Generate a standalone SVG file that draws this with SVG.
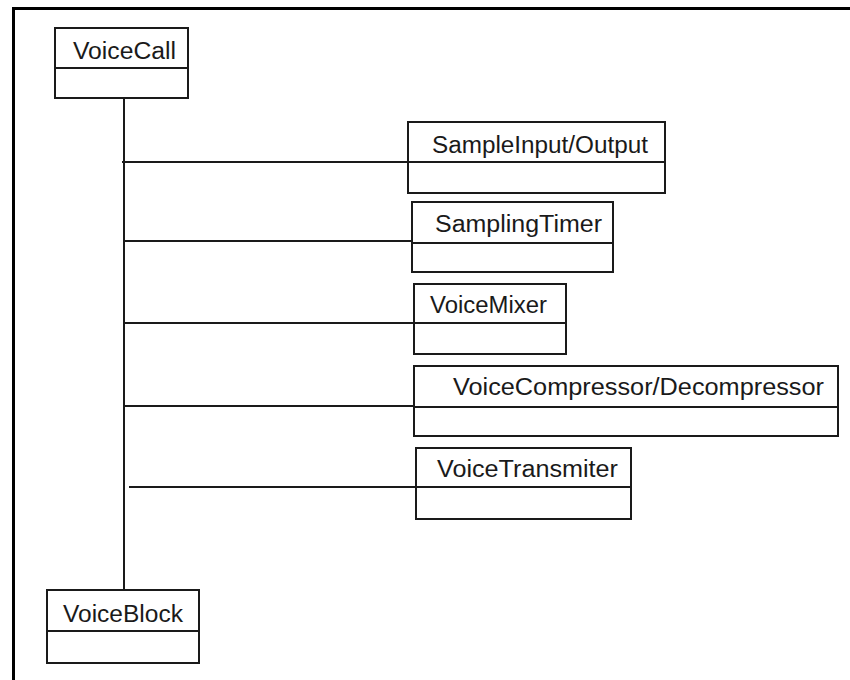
<svg xmlns="http://www.w3.org/2000/svg" width="850" height="680" viewBox="0 0 850 680">
  <style>
    .box { fill: #ffffff; stroke: #1a1a1a; stroke-width: 2; }
    .div { stroke: #1a1a1a; stroke-width: 2; }
    .lbl { font-family: "Liberation Sans", Arial, sans-serif; font-size: 23px; fill: #1a1a1a; }
    .wire { stroke: #1a1a1a; stroke-width: 2; fill: none; }
    .frame { stroke: #000000; stroke-width: 3; fill: none; }
  </style>
  <rect x="0" y="0" width="850" height="680" fill="#ffffff"/>
  <!-- frame: top and left edges only -->
  <path class="frame" d="M13.5,680 V8.5 H850"/>

  <!-- connectors -->
  <g id="connectors">
    <line class="wire" x1="124" y1="99" x2="124" y2="590"/>
    <line class="wire" x1="122" y1="162" x2="408" y2="162"/>
    <line class="wire" x1="124" y1="241" x2="412" y2="241"/>
    <line class="wire" x1="124" y1="323" x2="414" y2="323"/>
    <line class="wire" x1="124" y1="406" x2="414" y2="406"/>
    <line class="wire" x1="129" y1="487" x2="416" y2="487"/>
  </g>

  <g id="VoiceCall">
    <rect class="box" x="55" y="28" width="133" height="70"/>
    <line class="div" x1="55" y1="68" x2="188" y2="68"/>
    <text class="lbl" x="73" y="59" textLength="103" lengthAdjust="spacingAndGlyphs">VoiceCall</text>
  </g>

  <g id="SampleInputOutput">
    <rect class="box" x="408" y="122" width="257" height="71"/>
    <line class="div" x1="408" y1="162" x2="665" y2="162"/>
    <text class="lbl" x="432" y="153" textLength="216" lengthAdjust="spacingAndGlyphs">SampleInput/Output</text>
  </g>

  <g id="SamplingTimer">
    <rect class="box" x="412" y="202" width="201" height="70"/>
    <line class="div" x1="412" y1="243" x2="613" y2="243"/>
    <text class="lbl" x="435" y="232" textLength="167" lengthAdjust="spacingAndGlyphs">SamplingTimer</text>
  </g>

  <g id="VoiceMixer">
    <rect class="box" x="414" y="284" width="152" height="70"/>
    <line class="div" x1="414" y1="323" x2="566" y2="323"/>
    <text class="lbl" x="430" y="313" textLength="117" lengthAdjust="spacingAndGlyphs">VoiceMixer</text>
  </g>

  <g id="VoiceCompressorDecompressor">
    <rect class="box" x="414" y="366" width="424" height="70"/>
    <line class="div" x1="414" y1="407" x2="838" y2="407"/>
    <text class="lbl" x="453" y="395" textLength="371" lengthAdjust="spacingAndGlyphs">VoiceCompressor/Decompressor</text>
  </g>

  <g id="VoiceTransmiter">
    <rect class="box" x="416" y="448" width="215" height="71"/>
    <line class="div" x1="416" y1="487" x2="631" y2="487"/>
    <text class="lbl" x="437" y="477" textLength="181" lengthAdjust="spacingAndGlyphs">VoiceTransmiter</text>
  </g>

  <g id="VoiceBlock">
    <rect class="box" x="47" y="590" width="152" height="73"/>
    <line class="div" x1="47" y1="631" x2="199" y2="631"/>
    <text class="lbl" x="63" y="622" textLength="120" lengthAdjust="spacingAndGlyphs">VoiceBlock</text>
  </g>
</svg>
